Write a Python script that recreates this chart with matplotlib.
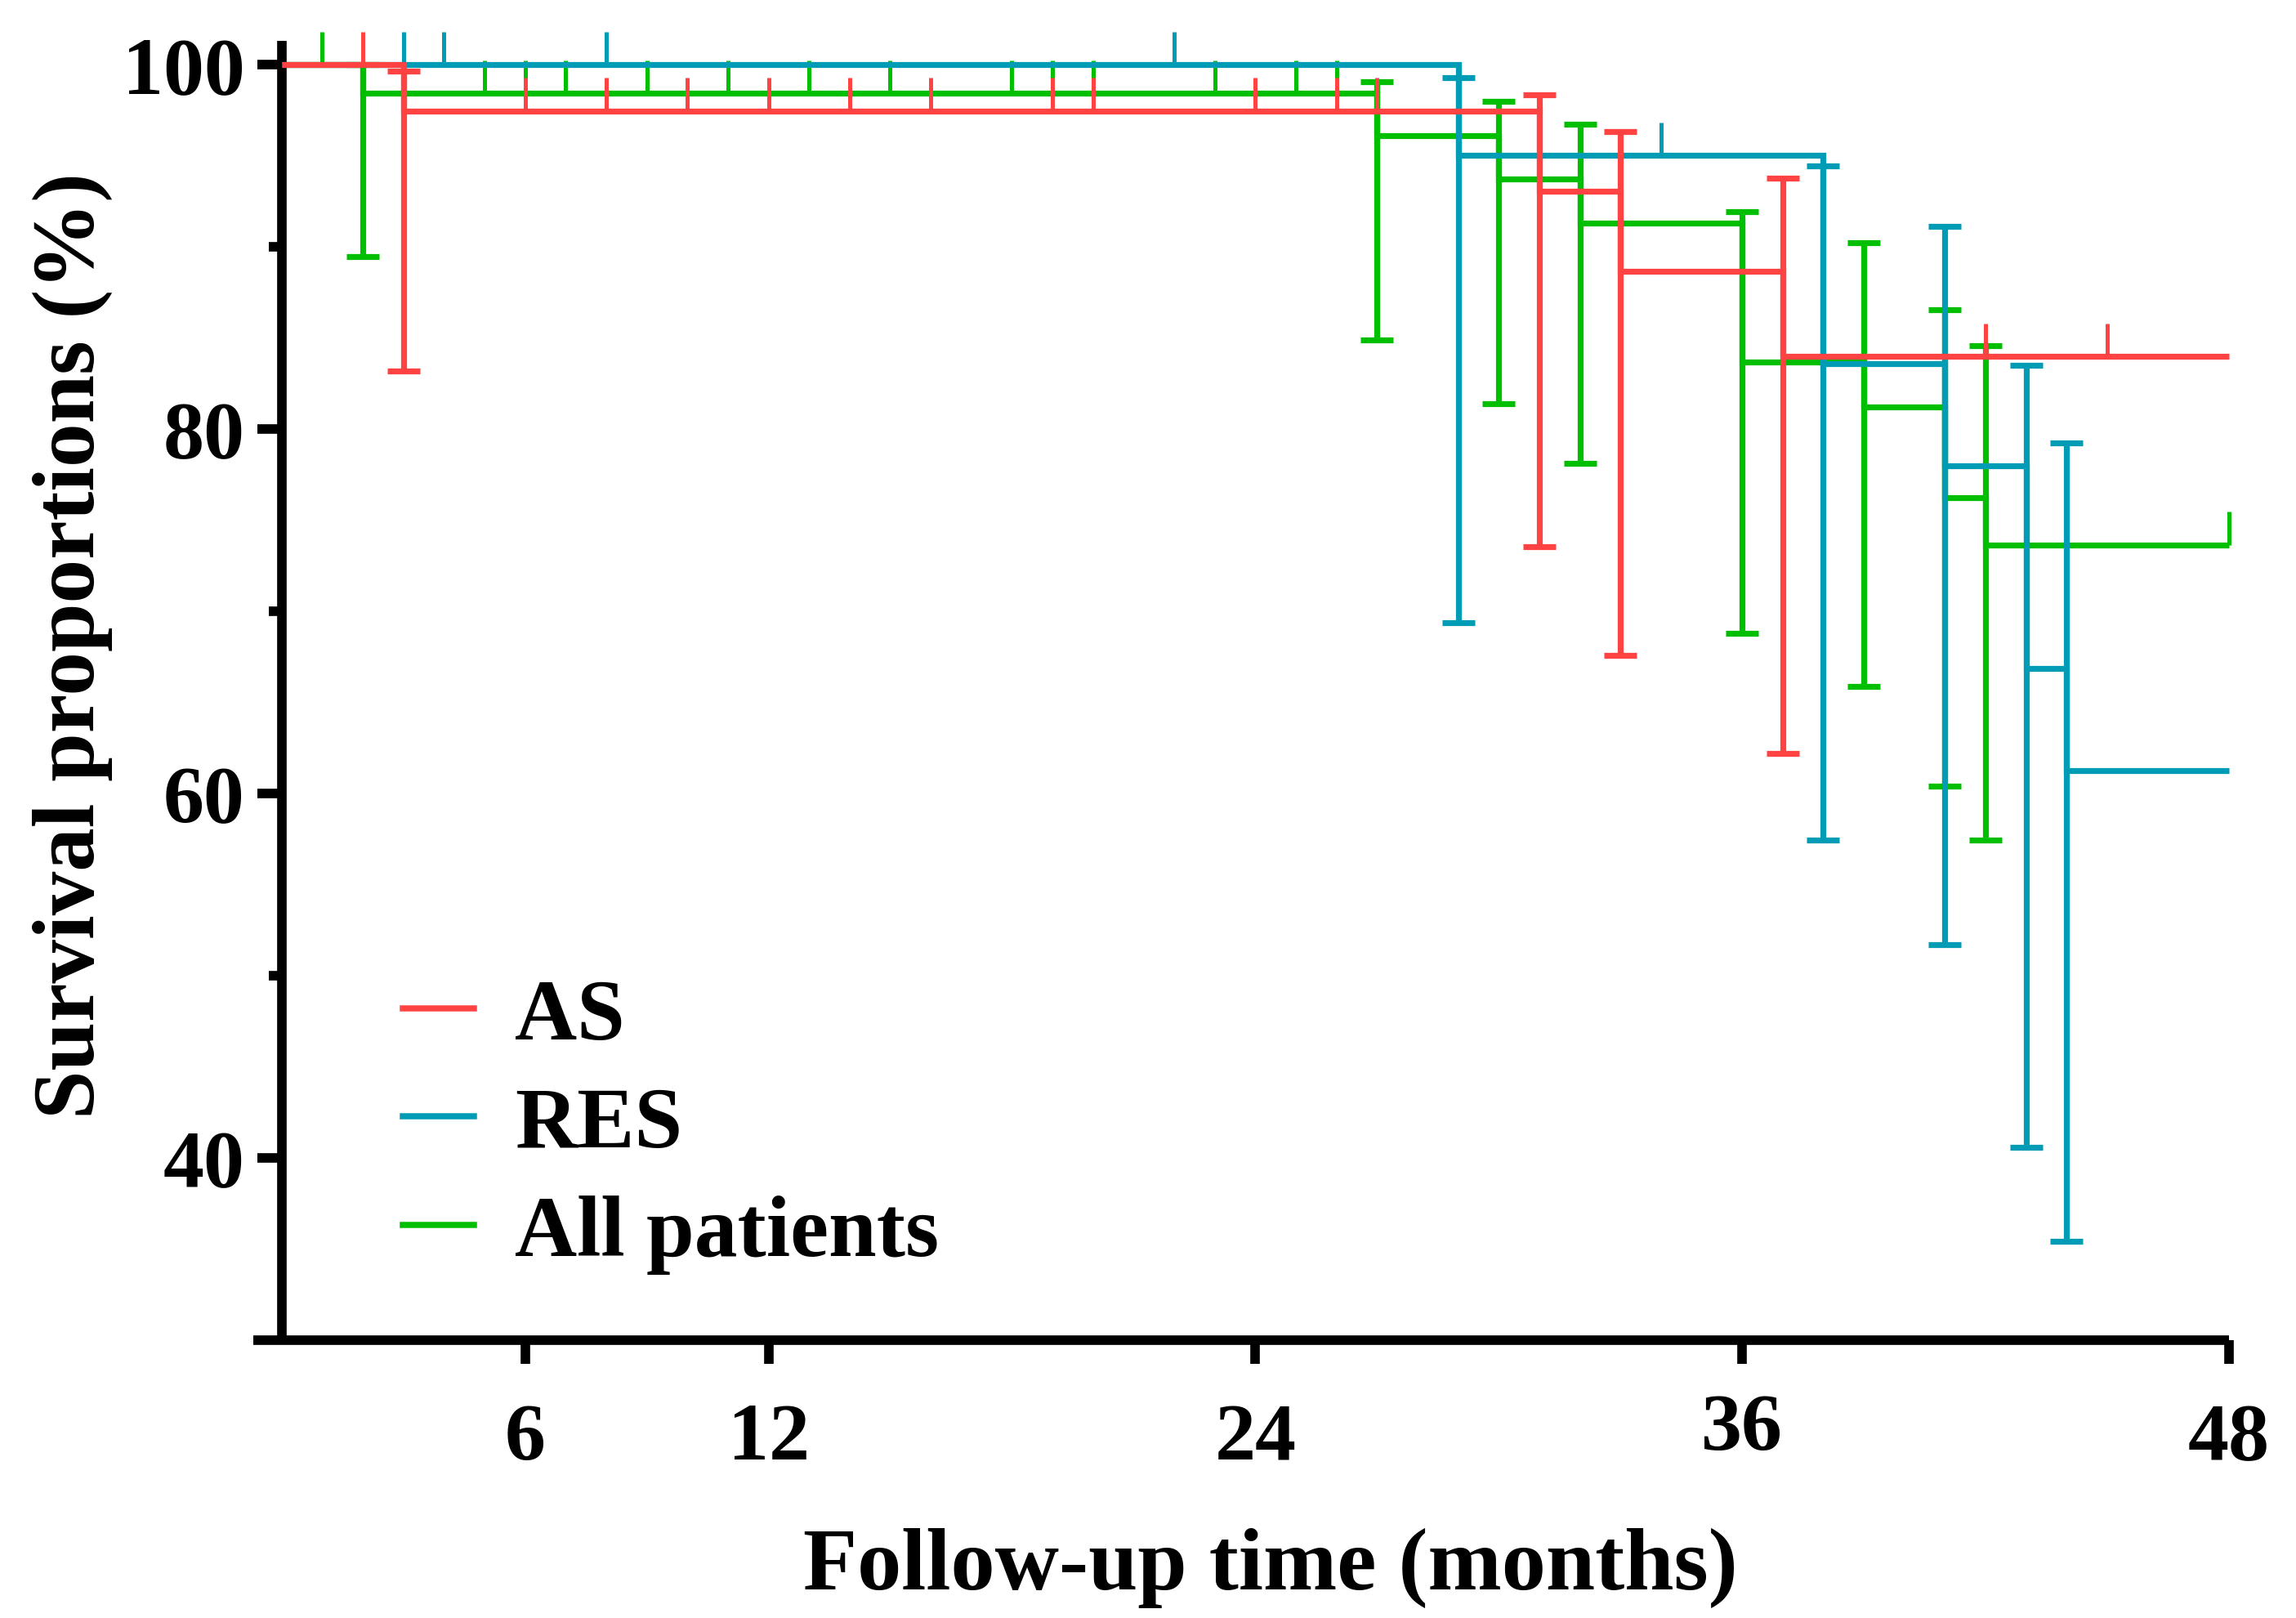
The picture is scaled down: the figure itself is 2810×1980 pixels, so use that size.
import numpy as np
import matplotlib
matplotlib.use("Agg")
import matplotlib.pyplot as plt
import matplotlib.transforms as mtransforms
from matplotlib.lines import Line2D

# survival curves (percent)
follow_up_end = 48

as_times = [0, 3, 31, 33, 37]
as_surv = [100, 97.46, 93.05, 88.64, 83.98]
as_ci_low = [83.18, 73.54, 67.57, 62.18]
as_ci_high = [99.65, 98.35, 96.34, 93.78]
as_censored = [2, 6, 8, 10, 12, 14, 16, 19, 20, 24, 26, 27, 42, 45]

res_times = [0, 29, 38, 41, 43, 44]
res_surv = [100, 95.02, 83.59, 77.97, 66.88, 61.24]
res_ci_low = [69.35, 57.46, 51.7, 40.6, 35.44]
res_ci_high = [99.28, 94.44, 91.11, 83.5, 79.22]
res_censored = [3, 4, 8, 22, 34]

all_times = [0, 2, 27, 30, 32, 36, 39, 41, 42]
all_surv = [100, 98.43, 96.11, 93.72, 91.3, 83.68, 81.19, 76.24, 73.65]
all_ci_low = [89.45, 84.9, 81.39, 78.1, 68.8, 65.88, 60.4, 57.46]
all_ci_high = [100, 99.07, 97.98, 96.74, 91.93, 90.2, 86.53, 84.55]
all_censored = [1, 5, 6, 7, 9, 11, 13, 15, 18, 19, 20, 23, 25, 26, 48]

x_ticks = [6, 12, 24, 36, 48]
y_ticks = [40, 60, 80, 100]
y_minor = [50, 70, 90]

RED = "#FF4343"
BLUE = "#009BB5"
GREEN = "#00BE00"
FONT = "Liberation Serif"
LW = 2.6


def draw_group(ax, times, surv, lo, hi, censored, color, z):
    t = np.array(times + [follow_up_end])
    s = np.array(surv + [surv[-1]])
    ax.step(t, s, where="post", color=color, lw=LW, zorder=z, clip_on=False,
            solid_joinstyle="miter", solid_capstyle="butt")
    ev_t = np.array(times[1:])
    ev_s = np.array(surv[1:])
    ax.errorbar(ev_t, ev_s, yerr=[ev_s - np.array(lo), np.array(hi) - ev_s], fmt="none",
                ecolor=color, elinewidth=LW, capsize=7.2, capthick=LW, zorder=z, clip_on=False)
    c = np.array(censored)
    idx = np.searchsorted(times, c, side="right") - 1
    cs = np.array(surv)[idx]
    ax.vlines(c, cs, cs + 1.8, color=color, lw=1.8, zorder=z + 0.1, clip_on=False)


fig = plt.figure(figsize=(14.05, 9.905), dpi=200)
ax = fig.add_axes([0.1103, 0.1716, 0.8605, 0.8027])

draw_group(ax, all_times, all_surv, all_ci_low, all_ci_high, all_censored, GREEN, 2)
draw_group(ax, res_times, res_surv, res_ci_low, res_ci_high, res_censored, BLUE, 3)
draw_group(ax, as_times, as_surv, as_ci_low, as_ci_high, as_censored, RED, 4)

ax.set_xlim(-0.7, 48)
ax.set_ylim(30, 101.3)

for side in ["top", "right"]:
    ax.spines[side].set_visible(False)
ax.spines["left"].set_position(("data", 0))
for side in ["left", "bottom"]:
    ax.spines[side].set_linewidth(4.2)
    ax.spines[side].set_capstyle("butt")

ax.set_xticks(x_ticks, labels=[str(v) for v in x_ticks])
ax.set_yticks(y_ticks, labels=[str(v) for v in y_ticks])
ax.set_yticks(y_minor, minor=True)
ax.tick_params(axis="x", direction="out", length=10.4, width=4.2, pad=17)
ax.tick_params(axis="y", which="major", direction="out", length=10.8, width=4.2, pad=5.4)
ax.tick_params(axis="y", which="minor", direction="out", length=5.8, width=4.2)
for lab in ax.get_xticklabels() + ax.get_yticklabels():
    lab.set_fontfamily(FONT)
    lab.set_fontweight("bold")
    lab.set_fontsize(36)

# the 36 label sits a little higher in the original
raise_36 = mtransforms.ScaledTranslation(0, 12 / 200, fig.dpi_scale_trans)
tick36 = ax.xaxis.get_major_ticks()[x_ticks.index(36)]
tick36.label1.set_transform(tick36.label1.get_transform() + raise_36)

ax.set_xlabel("Follow-up time (months)", fontfamily=FONT, fontweight="bold", fontsize=39)
ax.set_ylabel("Survival proportions (%)", fontfamily=FONT, fontweight="bold", fontsize=38.5)
ax.xaxis.set_label_coords(0.5147, -0.144)
ax.yaxis.set_label_coords(-0.0711, 0.535)

handles = [Line2D([], [], color=RED, lw=2.7),
           Line2D([], [], color=BLUE, lw=2.7),
           Line2D([], [], color=GREEN, lw=2.7)]
ax.legend(handles, ["AS", "RES", "All patients"], loc="center left",
          bbox_to_anchor=(0.0757, 0.165), frameon=False, borderpad=0, borderaxespad=0,
          handlelength=0.82, handletextpad=0.48, labelspacing=0.335,
          prop={"family": FONT, "weight": "bold", "size": 38})

fig.savefig("out.png", dpi=200)
